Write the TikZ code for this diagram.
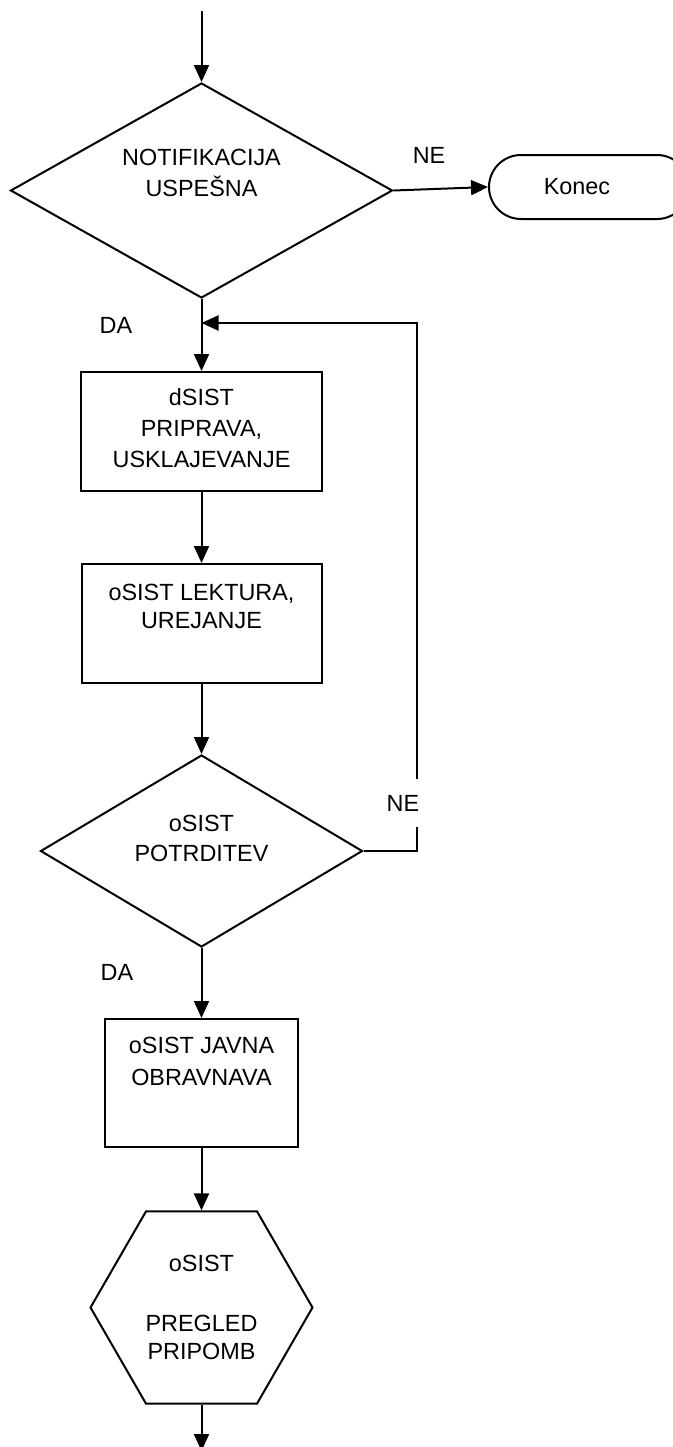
\documentclass[tikz,border=0pt]{standalone}
\usepackage{fontspec}
\setmainfont{Liberation Sans}
\usetikzlibrary{shapes.geometric, arrows.meta}

\begin{document}
\begin{tikzpicture}[x=0.5pt, y=-0.5pt,
  every node/.style={font=\fontsize{11.7pt}{15pt}\selectfont},
  outline/.style={draw=black, line width=1pt, inner sep=0pt},
  arr/.style={draw=black, line width=1pt, -{Triangle[length=8.5pt,width=7.5pt]}},
  decision/.style={diamond, outline},
  process/.style={rectangle, outline},
  terminal/.style={rectangle, rounded corners=16pt, outline},
  prep/.style={regular polygon, regular polygon sides=6, outline},
  txt/.style={align=center, inner sep=0pt},
  gaplabel/.style={fill=white, inner xsep=3pt, inner ysep=8pt}
]
\useasboundingbox (0,0) rectangle (673,1447);

% shapes of the flow, all centred on one vertical axis
\node[decision, minimum width=191pt, minimum height=107.5pt,
  label={[txt, yshift=9pt, font=\fontsize{11.7pt}{15.5pt}\selectfont]center:NOTIFIKACIJA\\USPEŠNA}]
  (d1) at (201.5,190.5) {};
\node[terminal, minimum width=100pt, minimum height=32pt,
  label={[txt, xshift=-6pt]center:Konec}] (konec) at (589,187) {};
\node[process, minimum width=120.5pt, minimum height=59.5pt,
  label={[txt, yshift=1.5pt, font=\fontsize{11.7pt}{15.5pt}\selectfont]center:dSIST\\PRIPRAVA,\\USKLAJEVANJE}]
  (b1) at (201.5,431.5) {};
\node[process, minimum width=120pt, minimum height=59.5pt,
  label={[txt, yshift=8.75pt, font=\fontsize{11.7pt}{14pt}\selectfont]center:oSIST LEKTURA,\\UREJANJE}]
  (b2) at (201.5,623.5) {};
\node[decision, minimum width=161pt, minimum height=96pt,
  label={[txt, yshift=6.5pt]center:oSIST\\POTRDITEV}]
  (d2) at (201.5,851) {};
\node[process, minimum width=96.5pt, minimum height=64pt,
  label={[txt, yshift=11pt, font=\fontsize{11.7pt}{16pt}\selectfont]center:oSIST JAVNA\\OBRAVNAVA}]
  (b3) at (201.5,1083) {};
\node[prep, minimum size=111pt,
  label={[txt, font=\fontsize{11.7pt}{14pt}\selectfont]center:oSIST\\[16pt]PREGLED\\PRIPOMB}]
  (h) at (201.5,1307.5) {};

% free ends and the junction of the loop
\coordinate (start) at (201.5,11);
\coordinate (join) at (201.5,323);
\coordinate (finish) at (201.5,1451);

% connectors
\draw[arr] (start) -- (d1.north);
\draw[arr] (d1.east) -- (konec.west);
\draw[arr] (d1.south) -- (b1.north);
\draw[arr] (b1.south) -- (b2.north);
\draw[arr] (b2.south) -- (d2.north);
\draw[arr] (d2.east) -- ++(53,0) |- (join);
\draw[arr] (d2.south) -- (b3.north);
\draw[arr] (b3.south) -- (h.north);
\draw[arr] (h.south) -- (finish);

% branch labels
\node (ne1) at (429,155) {NE};
\node (da1) at (116,325) {DA};
\node[gaplabel] (ne2) at (403,803) {NE};
\node (da2) at (117,972) {DA};
\end{tikzpicture}
\end{document}
